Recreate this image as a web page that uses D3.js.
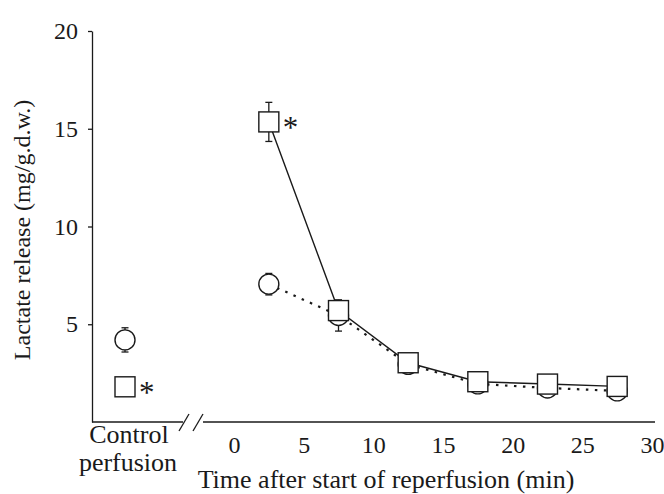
<!DOCTYPE html>
<html>
<head>
<meta charset="utf-8">
<script src="https://cdn.jsdelivr.net/npm/d3@7"></script>
<style>
  body { margin: 0; background: #fff; }
  svg text { font-family: "Liberation Serif", "Times New Roman", serif; fill: #1a1a1a; }
</style>
</head>
<body>
<svg id="vis1"></svg>
<script>
const WIDTH = 664;
const HEIGHT = 494;
const INK = "#1a1a1a";

// reperfusion time points (min)
const times = [2.5, 7.5, 12.5, 17.5, 22.5, 27.5];
// square series (with asterisk)
const squareVals = [15.35, 5.7, 3.03, 2.06, 1.94, 1.82];
const squareErr = [1.0, 0.3, 0.2, 0.2, 0.2, 0.2];
// circle series (dotted line)
const circleVals = [7.05, 5.45, 2.95, 1.95, 1.74, 1.59];
const circleErr = [0.55, 0.8, 0.2, 0.2, 0.2, 0.2];
// control perfusion
const controlCircle = 4.2, controlCircleErr = 0.62;
const controlSquare = 1.8, controlSquareErr = 0.2;

const xTicks = [0, 5, 10, 15, 20, 25, 30];
const yTicks = [5, 10, 15, 20];

window.onload = function () {
    setupVis();
};

function setupVis() {
    let svg = d3.select("#vis1")
        .attr("width", WIDTH)
        .attr("height", HEIGHT);

    const y = d3.scaleLinear().domain([0, 20]).range([422, 31]);
    const x = d3.scaleLinear().domain([0, 30]).range([234, 652]);
    const xc = d3.scaleBand().domain(["control"]).range([88, 162]);
    const cx = xc("control") + xc.bandwidth() / 2;

    // y axis
    const yAxis = svg.append("g")
        .attr("transform", "translate(92,0)")
        .call(d3.axisLeft(y).tickValues(yTicks).tickSize(4).tickSizeOuter(0).tickPadding(10));
    yAxis.selectAll("path, line").attr("stroke", INK).attr("stroke-width", 1.3);
    yAxis.selectAll("text").style("font-size", "24px").attr("fill", INK);

    // x axis labels (line is drawn separately because of the break)
    const xAxis = svg.append("g")
        .attr("transform", "translate(0,422)")
        .call(d3.axisBottom(x).tickValues(xTicks).tickSize(0).tickPadding(14));
    xAxis.select(".domain").remove();
    xAxis.selectAll("text").style("font-size", "24px").attr("fill", INK);

    // broken x axis line
    const axisLine = svg.append("g").attr("stroke", INK).attr("stroke-width", 1.3).attr("fill", "none");
    axisLine.append("line").attr("x1", 92).attr("x2", 183).attr("y1", 422).attr("y2", 422);
    axisLine.append("line").attr("x1", 203).attr("x2", 655).attr("y1", 422).attr("y2", 422);
    axisLine.append("line").attr("x1", 179).attr("y1", 431).attr("x2", 189).attr("y2", 414);
    axisLine.append("line").attr("x1", 193).attr("y1", 431).attr("x2", 203).attr("y2", 414);

    // axis titles
    svg.append("text")
        .attr("x", 386).attr("y", 488)
        .attr("text-anchor", "middle")
        .style("font-size", "26px")
        .text("Time after start of reperfusion (min)");
    svg.append("text")
        .attr("transform", "translate(30,230) rotate(-90)")
        .attr("text-anchor", "middle")
        .style("font-size", "24px")
        .text("Lactate release (mg/g.d.w.)");
    svg.append("text")
        .attr("x", 129).attr("y", 443)
        .attr("text-anchor", "middle")
        .style("font-size", "26px")
        .text("Control");
    svg.append("text")
        .attr("x", 128).attr("y", 471)
        .attr("text-anchor", "middle")
        .style("font-size", "26px")
        .text("perfusion");

    const circles = times.map((t, i) => ({ t: t, v: circleVals[i], e: circleErr[i] }));
    const squares = times.map((t, i) => ({ t: t, v: squareVals[i], e: squareErr[i] }));

    // lines
    const line = d3.line().x(d => x(d.t)).y(d => y(d.v));
    svg.append("path").datum(circles)
        .attr("d", line)
        .attr("fill", "none").attr("stroke", INK)
        .attr("stroke-width", 2.2).attr("stroke-dasharray", "2.5,6.5");
    svg.append("path").datum(squares)
        .attr("d", line)
        .attr("fill", "none").attr("stroke", INK)
        .attr("stroke-width", 1.4);

    // error bars
    function errBars(data, px) {
        const g = svg.append("g").attr("stroke", INK).attr("stroke-width", 1.3);
        data.forEach(d => {
            const xx = px(d);
            g.append("line").attr("x1", xx).attr("x2", xx).attr("y1", y(d.v + d.e)).attr("y2", y(d.v - d.e));
            g.append("line").attr("x1", xx - 3.5).attr("x2", xx + 3.5).attr("y1", y(d.v + d.e)).attr("y2", y(d.v + d.e));
            g.append("line").attr("x1", xx - 3.5).attr("x2", xx + 3.5).attr("y1", y(d.v - d.e)).attr("y2", y(d.v - d.e));
        });
    }
    const ctrlC = [{ v: controlCircle, e: controlCircleErr }];
    const ctrlS = [{ v: controlSquare, e: controlSquareErr }];
    errBars(circles.concat(squares), d => x(d.t));
    errBars(ctrlC.concat(ctrlS), d => cx);

    // circles
    svg.selectAll("circle.c")
        .data(circles).enter().append("circle")
        .attr("cx", d => x(d.t)).attr("cy", d => y(d.v)).attr("r", 10)
        .attr("fill", "#fff").attr("stroke", INK).attr("stroke-width", 1.4);
    svg.selectAll("circle.cc")
        .data(ctrlC).enter().append("circle")
        .attr("cx", cx).attr("cy", d => y(d.v)).attr("r", 10)
        .attr("fill", "#fff").attr("stroke", INK).attr("stroke-width", 1.4);

    // squares
    svg.selectAll("rect.s")
        .data(squares).enter().append("rect")
        .attr("x", d => x(d.t) - 10).attr("y", d => y(d.v) - 10)
        .attr("width", 20).attr("height", 20)
        .attr("fill", "#fff").attr("stroke", INK).attr("stroke-width", 1.4);
    svg.selectAll("rect.sc")
        .data(ctrlS).enter().append("rect")
        .attr("x", cx - 10).attr("y", d => y(d.v) - 10)
        .attr("width", 20).attr("height", 20)
        .attr("fill", "#fff").attr("stroke", INK).attr("stroke-width", 1.4);

    // significance asterisks
    svg.append("text")
        .attr("x", x(squares[0].t) + 14).attr("y", y(squares[0].v) + 16)
        .style("font-size", "31px").text("*");
    svg.append("text")
        .attr("x", cx + 14).attr("y", y(controlSquare) + 16)
        .style("font-size", "31px").text("*");
}
</script>
</body>
</html>
